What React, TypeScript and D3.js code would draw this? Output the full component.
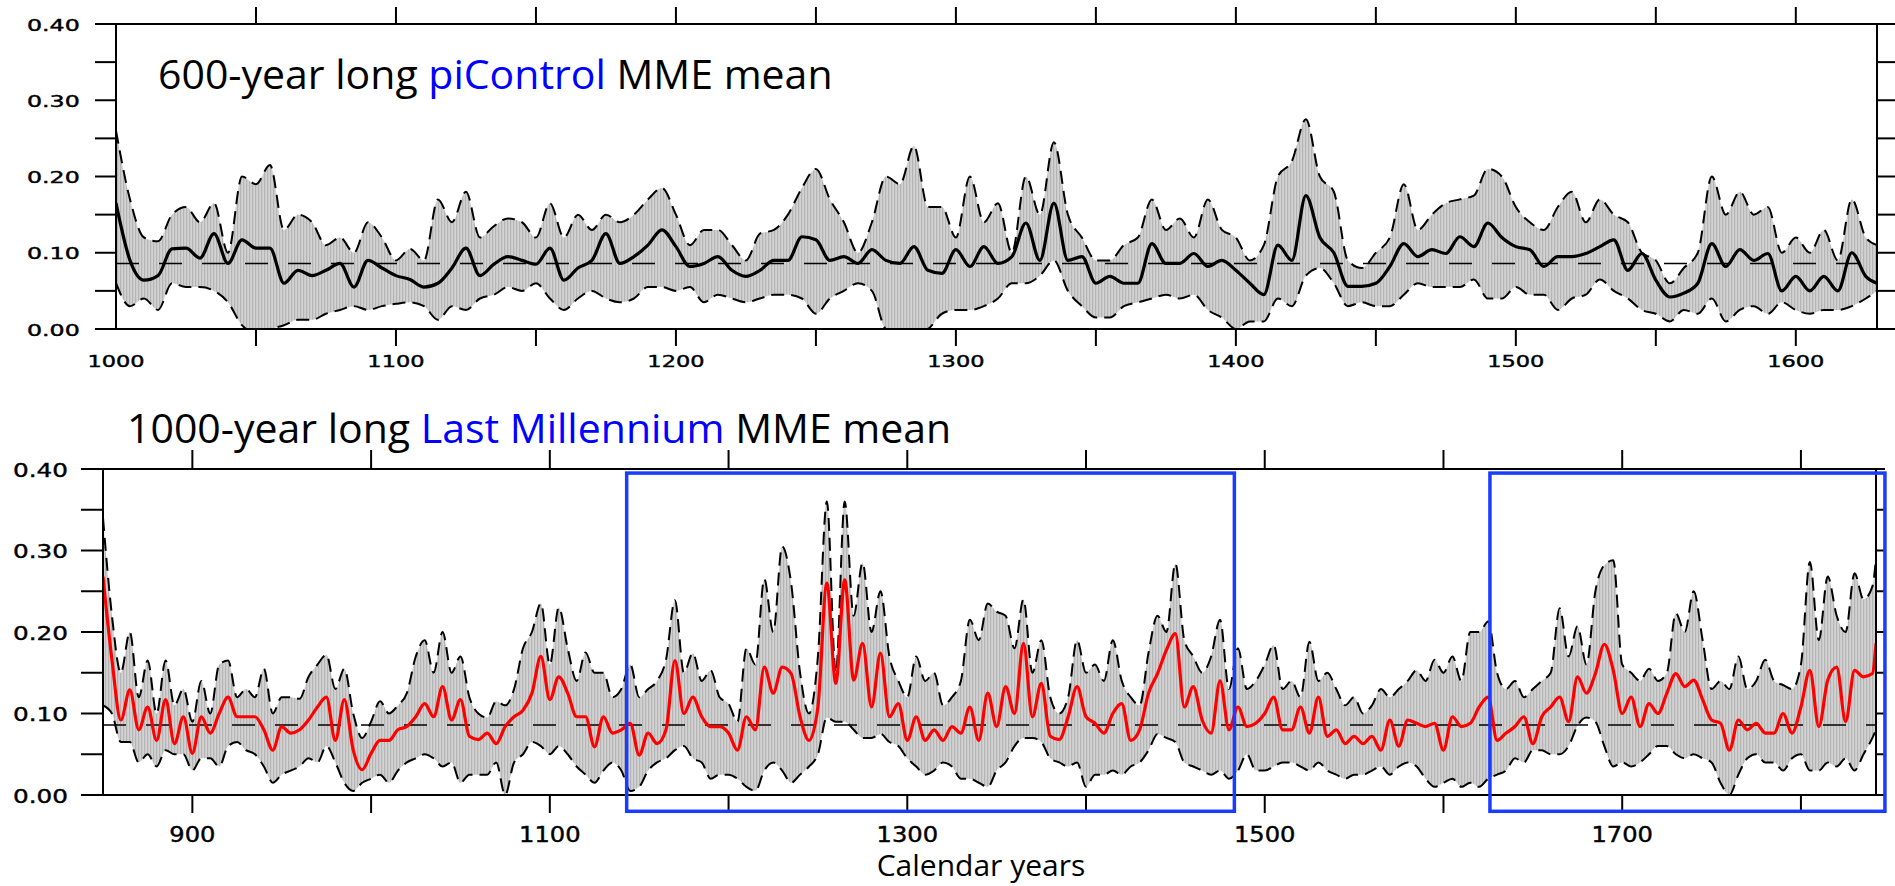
import * as d3 from 'd3'

// ---- piControl (top panel), 5-year readings ----
const TOP_YEARS = [
  1000, 1005, 1010, 1015, 1020, 1025, 1030, 1035, 1040, 1045,
  1050, 1055, 1060, 1065, 1070, 1075, 1080, 1085, 1090, 1095,
  1100, 1105, 1110, 1115, 1120, 1125, 1130, 1135, 1140, 1145,
  1150, 1155, 1160, 1165, 1170, 1175, 1180, 1185, 1190, 1195,
  1200, 1205, 1210, 1215, 1220, 1225, 1230, 1235, 1240, 1245,
  1250, 1255, 1260, 1265, 1270, 1275, 1280, 1285, 1290, 1295,
  1300, 1305, 1310, 1315, 1320, 1325, 1330, 1335, 1340, 1345,
  1350, 1355, 1360, 1365, 1370, 1375, 1380, 1385, 1390, 1395,
  1400, 1405, 1410, 1415, 1420, 1425, 1430, 1435, 1440, 1445,
  1450, 1455, 1460, 1465, 1470, 1475, 1480, 1485, 1490, 1495,
  1500, 1505, 1510, 1515, 1520, 1525, 1530, 1535, 1540, 1545,
  1550, 1555, 1560, 1565, 1570, 1575, 1580, 1585, 1590, 1595,
  1600, 1605, 1610, 1615, 1620, 1625, 1629,
]
const TOP_MEAN = [
  0.165, 0.09, 0.064, 0.07, 0.105, 0.106, 0.093, 0.125, 0.086, 0.117,
  0.106, 0.106, 0.06, 0.077, 0.07, 0.077, 0.086, 0.055, 0.09, 0.08,
  0.07, 0.065, 0.055, 0.06, 0.08, 0.106, 0.07, 0.085, 0.095, 0.09,
  0.085, 0.106, 0.064, 0.08, 0.09, 0.125, 0.086, 0.095, 0.11, 0.13,
  0.108, 0.082, 0.086, 0.095, 0.077, 0.069, 0.077, 0.09, 0.09, 0.121,
  0.117, 0.09, 0.095, 0.086, 0.104, 0.09, 0.086, 0.108, 0.077, 0.073,
  0.104, 0.082, 0.108, 0.086, 0.095, 0.139, 0.09, 0.165, 0.09, 0.095,
  0.06, 0.069, 0.06, 0.06, 0.112, 0.086, 0.086, 0.099, 0.082, 0.09,
  0.077, 0.06, 0.045, 0.11, 0.09, 0.175, 0.12, 0.1, 0.056, 0.056,
  0.06, 0.082, 0.112, 0.095, 0.104, 0.099, 0.121, 0.108, 0.139, 0.12,
  0.108, 0.104, 0.082, 0.095, 0.095, 0.099, 0.108, 0.117, 0.077, 0.099,
  0.064, 0.042, 0.047, 0.06, 0.112, 0.082, 0.104, 0.09, 0.099, 0.05,
  0.069, 0.05, 0.069, 0.05, 0.1, 0.069, 0.06,
]
const TOP_UPPER = [
  0.26, 0.17, 0.12, 0.115, 0.15, 0.16, 0.14, 0.165, 0.1, 0.2,
  0.19, 0.215, 0.13, 0.15, 0.14, 0.11, 0.12, 0.1, 0.14, 0.12,
  0.09, 0.105, 0.09, 0.17, 0.14, 0.18, 0.12, 0.135, 0.145, 0.14,
  0.12, 0.165, 0.12, 0.15, 0.13, 0.15, 0.14, 0.15, 0.17, 0.185,
  0.15, 0.11, 0.13, 0.13, 0.11, 0.09, 0.125, 0.13, 0.15, 0.185,
  0.21, 0.17, 0.14, 0.1, 0.14, 0.2, 0.19, 0.24, 0.16, 0.16,
  0.12, 0.2, 0.14, 0.165, 0.1, 0.2, 0.15, 0.245, 0.15, 0.12,
  0.09, 0.09, 0.11, 0.12, 0.17, 0.13, 0.145, 0.12, 0.17, 0.13,
  0.12, 0.09, 0.11, 0.2, 0.22, 0.275, 0.2, 0.18, 0.09, 0.08,
  0.1, 0.12, 0.19, 0.13, 0.15, 0.165, 0.17, 0.175, 0.21, 0.2,
  0.16, 0.14, 0.13, 0.16, 0.18, 0.14, 0.17, 0.15, 0.14, 0.1,
  0.09, 0.06, 0.08, 0.1, 0.2, 0.15, 0.18, 0.15, 0.16, 0.1,
  0.12, 0.1, 0.13, 0.09, 0.17, 0.12, 0.11,
]
const TOP_LOWER = [
  0.06, 0.03, 0.04, 0.025, 0.06, 0.055, 0.055, 0.05, 0.035, 0.005,
  -0.005, 0, 0.005, 0.012, 0.012, 0.02, 0.025, 0.03, 0.025, 0.03,
  0.033, 0.035, 0.03, 0.012, 0.03, 0.025, 0.04, 0.045, 0.055, 0.05,
  0.06, 0.04, 0.025, 0.04, 0.05, 0.04, 0.035, 0.04, 0.055, 0.055,
  0.05, 0.055, 0.035, 0.045, 0.04, 0.035, 0.04, 0.045, 0.045, 0.04,
  0.02, 0.04, 0.05, 0.06, 0.05, 0, -0.005, -0.005, 0, 0.02,
  0.025, 0.025, 0.03, 0.04, 0.06, 0.06, 0.07, 0.09, 0.05, 0.03,
  0.015, 0.015, 0.03, 0.035, 0.04, 0.045, 0.04, 0.045, 0.025, 0.015,
  0, 0.01, 0.01, 0.04, 0.03, 0.07, 0.08, 0.06, 0.03, 0.035,
  0.03, 0.03, 0.045, 0.06, 0.055, 0.055, 0.055, 0.065, 0.04, 0.04,
  0.055, 0.045, 0.045, 0.025, 0.04, 0.045, 0.065, 0.05, 0.04, 0.025,
  0.02, 0.01, 0.025, 0.02, 0.04, 0.01, 0.025, 0.03, 0.02, 0.035,
  0.025, 0.02, 0.025, 0.025, 0.03, 0.04, 0.05,
]

// ---- Last Millennium (bottom panel), 5-year readings ----
const LM_YEARS = [
  850, 855, 860, 865, 870, 875, 880, 885, 890, 895,
  900, 905, 910, 915, 920, 925, 930, 935, 940, 945,
  950, 955, 960, 965, 970, 975, 980, 985, 990, 995,
  1000, 1005, 1010, 1015, 1020, 1025, 1030, 1035, 1040, 1045,
  1050, 1055, 1060, 1065, 1070, 1075, 1080, 1085, 1090, 1095,
  1100, 1105, 1110, 1115, 1120, 1125, 1130, 1135, 1140, 1145,
  1150, 1155, 1160, 1165, 1170, 1175, 1180, 1185, 1190, 1195,
  1200, 1205, 1210, 1215, 1220, 1225, 1230, 1235, 1240, 1245,
  1250, 1255, 1260, 1265, 1270, 1275, 1280, 1285, 1290, 1295,
  1300, 1305, 1310, 1315, 1320, 1325, 1330, 1335, 1340, 1345,
  1350, 1355, 1360, 1365, 1370, 1375, 1380, 1385, 1390, 1395,
  1400, 1405, 1410, 1415, 1420, 1425, 1430, 1435, 1440, 1445,
  1450, 1455, 1460, 1465, 1470, 1475, 1480, 1485, 1490, 1495,
  1500, 1505, 1510, 1515, 1520, 1525, 1530, 1535, 1540, 1545,
  1550, 1555, 1560, 1565, 1570, 1575, 1580, 1585, 1590, 1595,
  1600, 1605, 1610, 1615, 1620, 1625, 1630, 1635, 1640, 1645,
  1650, 1655, 1660, 1665, 1670, 1675, 1680, 1685, 1690, 1695,
  1700, 1705, 1710, 1715, 1720, 1725, 1730, 1735, 1740, 1745,
  1750, 1755, 1760, 1765, 1770, 1775, 1780, 1785, 1790, 1795,
  1800, 1805, 1810, 1815, 1820, 1825, 1830, 1835, 1840, 1842,
]
const LM_MEAN = [
  0.268, 0.166, 0.092, 0.129, 0.08, 0.108, 0.067, 0.117, 0.063, 0.096,
  0.051, 0.096, 0.076, 0.1, 0.12, 0.096, 0.096, 0.096, 0.08, 0.055,
  0.084, 0.076, 0.08, 0.092, 0.108, 0.12, 0.067, 0.117, 0.055, 0.031,
  0.051, 0.067, 0.067, 0.08, 0.084, 0.096, 0.112, 0.096, 0.133, 0.092,
  0.117, 0.072, 0.068, 0.076, 0.063, 0.084, 0.096, 0.104, 0.125, 0.17,
  0.117, 0.145, 0.125, 0.096, 0.096, 0.059, 0.096, 0.076, 0.08, 0.088,
  0.049, 0.076, 0.063, 0.08, 0.165, 0.1, 0.12, 0.096, 0.084, 0.084,
  0.076, 0.055, 0.096, 0.08, 0.157, 0.125, 0.157, 0.149, 0.096, 0.067,
  0.108, 0.26, 0.137, 0.264, 0.141, 0.186, 0.108, 0.174, 0.096, 0.112,
  0.067, 0.096, 0.067, 0.08, 0.067, 0.084, 0.076, 0.108, 0.067, 0.125,
  0.084, 0.133, 0.1, 0.186, 0.096, 0.137, 0.072, 0.068, 0.096, 0.133,
  0.096, 0.088, 0.076, 0.1, 0.112, 0.067, 0.08, 0.125, 0.149, 0.178,
  0.198, 0.108, 0.133, 0.092, 0.076, 0.14, 0.08, 0.108, 0.084, 0.088,
  0.1, 0.12, 0.08, 0.08, 0.108, 0.076, 0.12, 0.072, 0.08, 0.063,
  0.072, 0.063, 0.072, 0.055, 0.092, 0.06, 0.092, 0.088, 0.084, 0.088,
  0.055, 0.096, 0.084, 0.088, 0.108, 0.12, 0.067, 0.076, 0.084, 0.096,
  0.063, 0.096, 0.108, 0.12, 0.09, 0.145, 0.125, 0.149, 0.185, 0.153,
  0.1, 0.12, 0.084, 0.112, 0.1, 0.125, 0.149, 0.133, 0.141, 0.117,
  0.092, 0.088, 0.055, 0.092, 0.08, 0.088, 0.076, 0.076, 0.1, 0.076,
  0.108, 0.153, 0.084, 0.141, 0.157, 0.09, 0.153, 0.145, 0.149, 0.186,
]
const LM_UPPER = [
  0.34, 0.22, 0.15, 0.2, 0.12, 0.165, 0.1, 0.165, 0.11, 0.13,
  0.09, 0.14, 0.1, 0.16, 0.165, 0.12, 0.13, 0.12, 0.155, 0.1,
  0.12, 0.12, 0.118, 0.145, 0.16, 0.172, 0.13, 0.155, 0.1, 0.07,
  0.09, 0.115, 0.1, 0.11, 0.125, 0.17, 0.19, 0.15, 0.2, 0.15,
  0.17, 0.12, 0.1, 0.095, 0.115, 0.11, 0.13, 0.18, 0.2, 0.235,
  0.16, 0.23, 0.18, 0.14, 0.175, 0.15, 0.15, 0.12, 0.13, 0.16,
  0.12, 0.13, 0.14, 0.166, 0.239, 0.15, 0.174, 0.14, 0.153, 0.12,
  0.112, 0.09, 0.18, 0.16, 0.265, 0.2, 0.305, 0.26, 0.15, 0.1,
  0.17, 0.36, 0.15, 0.36, 0.22, 0.285, 0.2, 0.25, 0.17, 0.14,
  0.12, 0.17, 0.14, 0.15, 0.11, 0.12, 0.14, 0.215, 0.19, 0.235,
  0.225, 0.22, 0.18, 0.24, 0.15, 0.19, 0.12, 0.1, 0.12, 0.19,
  0.15, 0.16, 0.14, 0.19, 0.14, 0.12, 0.11, 0.175, 0.22, 0.2,
  0.284, 0.19, 0.17, 0.15, 0.17, 0.215, 0.13, 0.18, 0.13, 0.14,
  0.16, 0.184, 0.13, 0.14, 0.12, 0.188, 0.14, 0.15, 0.13, 0.11,
  0.12, 0.1, 0.11, 0.13, 0.12, 0.13, 0.14, 0.153, 0.14, 0.166,
  0.15, 0.17, 0.14, 0.2, 0.2, 0.213, 0.15, 0.13, 0.14, 0.12,
  0.13, 0.14, 0.15, 0.229, 0.17, 0.207, 0.16, 0.25, 0.282, 0.288,
  0.16, 0.15, 0.14, 0.155, 0.14, 0.15, 0.223, 0.2, 0.25, 0.19,
  0.13, 0.14, 0.13, 0.17, 0.13, 0.14, 0.166, 0.14, 0.135, 0.13,
  0.16, 0.286, 0.19, 0.268, 0.22, 0.2, 0.272, 0.24, 0.256, 0.29,
]
const LM_LOWER = [
  0.11, 0.1, 0.065, 0.065, 0.04, 0.05, 0.035, 0.055, 0.05, 0.05,
  0.03, 0.045, 0.045, 0.035, 0.06, 0.065, 0.055, 0.05, 0.035, 0.015,
  0.025, 0.03, 0.035, 0.045, 0.04, 0.06, 0.04, 0.015, 0.005, 0.015,
  0.02, 0.025, 0.015, 0.03, 0.04, 0.045, 0.05, 0.045, 0.035, 0.04,
  0.015, 0.025, 0.025, 0.025, 0.04, 0, 0.04, 0.05, 0.065, 0.06,
  0.05, 0.06, 0.05, 0.035, 0.025, 0.015, 0.03, 0.04, 0.03, 0.005,
  0.01, 0.03, 0.04, 0.045, 0.055, 0.06, 0.045, 0.04, 0.02, 0.025,
  0.025, 0.02, 0.01, 0.005, 0.03, 0.04, 0.03, 0.015, 0.025, 0.035,
  0.05, 0.095, 0.09, 0.09, 0.08, 0.07, 0.07, 0.075, 0.065, 0.06,
  0.045, 0.035, 0.025, 0.03, 0.04, 0.035, 0.02, 0.02, 0.015, 0.01,
  0.03, 0.04, 0.06, 0.07, 0.07, 0.065, 0.045, 0.04, 0.035, 0.04,
  0.01, 0.025, 0.025, 0.03, 0.025, 0.035, 0.04, 0.055, 0.075, 0.07,
  0.065, 0.04, 0.035, 0.03, 0.025, 0.03, 0.02, 0.03, 0.05, 0.03,
  0.03, 0.035, 0.04, 0.04, 0.035, 0.03, 0.04, 0.03, 0.025, 0.02,
  0.025, 0.025, 0.03, 0.035, 0.025, 0.035, 0.04, 0.035, 0.02, 0.01,
  0.015, 0.02, 0.01, 0.015, 0.01, 0.02, 0.025, 0.03, 0.045, 0.04,
  0.055, 0.055, 0.05, 0.05, 0.06, 0.085, 0.095, 0.09, 0.06, 0.035,
  0.04, 0.035, 0.04, 0.05, 0.06, 0.06, 0.05, 0.045, 0.05, 0.045,
  0.04, 0.015, 0, 0.025, 0.045, 0.05, 0.04, 0.04, 0.03, 0.045,
  0.05, 0.03, 0.03, 0.04, 0.035, 0.045, 0.03, 0.05, 0.07, 0.08,
]

const REF_LEVEL = 0.086
const Y_TICKS = [0, 0.05, 0.1, 0.15, 0.2, 0.25, 0.3, 0.35, 0.4]
const Y_LABELS = [0, 0.1, 0.2, 0.3, 0.4]
const TOP_X_TICKS = [1050, 1100, 1150, 1200, 1250, 1300, 1350, 1400, 1450, 1500, 1550, 1600]
const TOP_X_LABELS = [1000, 1100, 1200, 1300, 1400, 1500, 1600]
const LM_X_TICKS = [900, 1000, 1100, 1200, 1300, 1400, 1500, 1600, 1700, 1800]
const LM_X_LABELS = [900, 1100, 1300, 1500, 1700]
// highlighted windows [start year, end year] and their vertical extent
const LM_BOXES = [[1143, 1483], [1626, 1847]]
const BOX_RANGE = [-0.02, 0.395]

const BLUE_TEXT = '#0000ff'
const BOX_BLUE = '#1a3cff'
const NUM_FONT = '"DejaVu Sans", sans-serif'
const TITLE_FONT = '"Open Sans", "Noto Sans", sans-serif'

// width of a numeric label in DejaVu Sans, stretched like the original's wide font
const labelWidth = (s: string, size: number, stretch: number) => {
  let em = 0
  for (const ch of s) em += ch === '.' ? 0.318 : 0.636
  return em * size * stretch
}

type PanelProps = {
  id: string
  years: number[]
  mean: number[]
  upper: number[]
  lower: number[]
  x: d3.ScaleLinear<number, number>
  y: d3.ScaleLinear<number, number>
  lineColor: string
  xTicks: number[]
  xLabels: number[]
  tick: { left: number; right: number; top: number; bottom: number }
  yLabel: { x: number; size: number; stretch: number; dy: number }
  xLabel: { baseline: number; size: number; stretch: number }
}

const Panel = ({ id, years, mean, upper, lower, x, y, lineColor, xTicks, xLabels, tick, yLabel, xLabel }: PanelProps) => {
  const [x0, x1] = x.range()
  const [y0, y1] = y.range()
  const idx = years.map((_, i) => i)

  const band = d3.area<number>()
    .x((i) => x(years[i]))
    .y0((i) => y(lower[i]))
    .y1((i) => y(upper[i]))
    .curve(d3.curveMonotoneX)
  const line = (vals: number[]) => d3.line<number>()
    .x((i) => x(years[i]))
    .y((i) => y(vals[i]))
    .curve(d3.curveMonotoneX)(idx) || ''

  return (
    <g>
      <defs>
        <clipPath id={id}>
          <rect x={x0} y={y1} width={x1 - x0} height={y0 - y1} />
        </clipPath>
        {/* the spread is shaded with fine vertical hatching */}
        <pattern id={`${id}-hatch`} width={3} height={10} patternUnits="userSpaceOnUse">
          <rect width={3} height={10} fill="#d2d2d2" />
          <rect width={1.2} height={10} fill="#b4b4b4" />
        </pattern>
      </defs>
      <g clipPath={`url(#${id})`}>
        <path d={band(idx) || ''} fill={`url(#${id}-hatch)`} />
        <line x1={x0} x2={x1} y1={y(REF_LEVEL)} y2={y(REF_LEVEL)} stroke="#000" strokeWidth={1.5} strokeDasharray="23,20" />
        <path d={line(upper)} fill="none" stroke="#000" strokeWidth={2} strokeDasharray="13,7" />
        <path d={line(lower)} fill="none" stroke="#000" strokeWidth={2} strokeDasharray="13,7" />
        <path d={line(mean)} fill="none" stroke={lineColor} strokeWidth={3.2} strokeLinejoin="round" />
      </g>
      <rect x={x0} y={y1} width={x1 - x0} height={y0 - y1} fill="none" stroke="#000" strokeWidth={2} />
      {Y_TICKS.map((t) => (
        <g key={`yt${t}`} stroke="#000" strokeWidth={2}>
          <line x1={x0 - tick.left} x2={x0} y1={y(t)} y2={y(t)} />
          <line x1={x1} x2={x1 + tick.right} y1={y(t)} y2={y(t)} />
        </g>
      ))}
      {xTicks.map((t) => (
        <g key={`xt${t}`} stroke="#000" strokeWidth={2}>
          <line x1={x(t)} x2={x(t)} y1={y1 - tick.top} y2={y1} />
          <line x1={x(t)} x2={x(t)} y1={y0} y2={y0 + tick.bottom} />
        </g>
      ))}
      {Y_LABELS.map((t) => {
        const s = d3.format('.2f')(t)
        return (
          <text key={`yl${t}`} x={yLabel.x} y={y(t) + yLabel.dy} fontFamily={NUM_FONT} fontSize={yLabel.size}
            stroke="#000" strokeWidth={0.4}
            textLength={labelWidth(s, yLabel.size, yLabel.stretch)} lengthAdjust="spacingAndGlyphs">{s}</text>
        )
      })}
      {xLabels.map((t) => {
        const s = String(t)
        return (
          <text key={`xl${t}`} x={x(t)} y={xLabel.baseline} textAnchor="middle" fontFamily={NUM_FONT} fontSize={xLabel.size}
            stroke="#000" strokeWidth={0.4}
            textLength={labelWidth(s, xLabel.size, xLabel.stretch)} lengthAdjust="spacingAndGlyphs">{s}</text>
        )
      })}
    </g>
  )
}

const App = () => {
  const topX = d3.scaleLinear().domain([1000, 1629]).range([116, 1877])
  const topY = d3.scaleLinear().domain([0, 0.4]).range([329, 24])
  const lmX = d3.scaleLinear().domain([850, 1842]).range([103, 1876])
  const lmY = d3.scaleLinear().domain([0, 0.4]).range([795, 469])

  return (
    <svg width={1895} height={886} style={{ position: 'absolute', left: 0, top: 0, background: '#fff' }}>
      <Panel id="clipTop" years={TOP_YEARS} mean={TOP_MEAN} upper={TOP_UPPER} lower={TOP_LOWER}
        x={topX} y={topY} lineColor="#000" xTicks={TOP_X_TICKS} xLabels={TOP_X_LABELS}
        tick={{ left: 21, right: 18, top: 17, bottom: 17 }}
        yLabel={{ x: 27, size: 15.5, stretch: 1.53, dy: 6.5 }}
        xLabel={{ baseline: 366.5, size: 15.5, stretch: 1.45 }} />
      <text x={158} y={89} fontFamily={TITLE_FONT} fontSize={41} fill="#000">
        600-year long <tspan fill={BLUE_TEXT}>piControl</tspan> MME mean
      </text>

      <Panel id="clipLm" years={LM_YEARS} mean={LM_MEAN} upper={LM_UPPER} lower={LM_LOWER}
        x={lmX} y={lmY} lineColor="#ff0000" xTicks={LM_X_TICKS} xLabels={LM_X_LABELS}
        tick={{ left: 22, right: 9, top: 19, bottom: 18 }}
        yLabel={{ x: 13, size: 19.6, stretch: 1.26, dy: 7.5 }}
        xLabel={{ baseline: 842, size: 20.5, stretch: 1.18 }} />
      {LM_BOXES.map(([a, b]) => (
        <rect key={`box${a}`} x={lmX(a)} y={lmY(BOX_RANGE[1])} width={lmX(b) - lmX(a)}
          height={lmY(BOX_RANGE[0]) - lmY(BOX_RANGE[1])} fill="none" stroke={BOX_BLUE} strokeWidth={3.5} />
      ))}
      <text x={127} y={443} fontFamily={TITLE_FONT} fontSize={41} fill="#000">
        1000-year long <tspan fill={BLUE_TEXT}>Last Millennium</tspan> MME mean
      </text>
      <text x={981} y={876} textAnchor="middle" fontFamily={TITLE_FONT} fontSize={30} fill="#000">Calendar years</text>
    </svg>
  )
}

export default App
